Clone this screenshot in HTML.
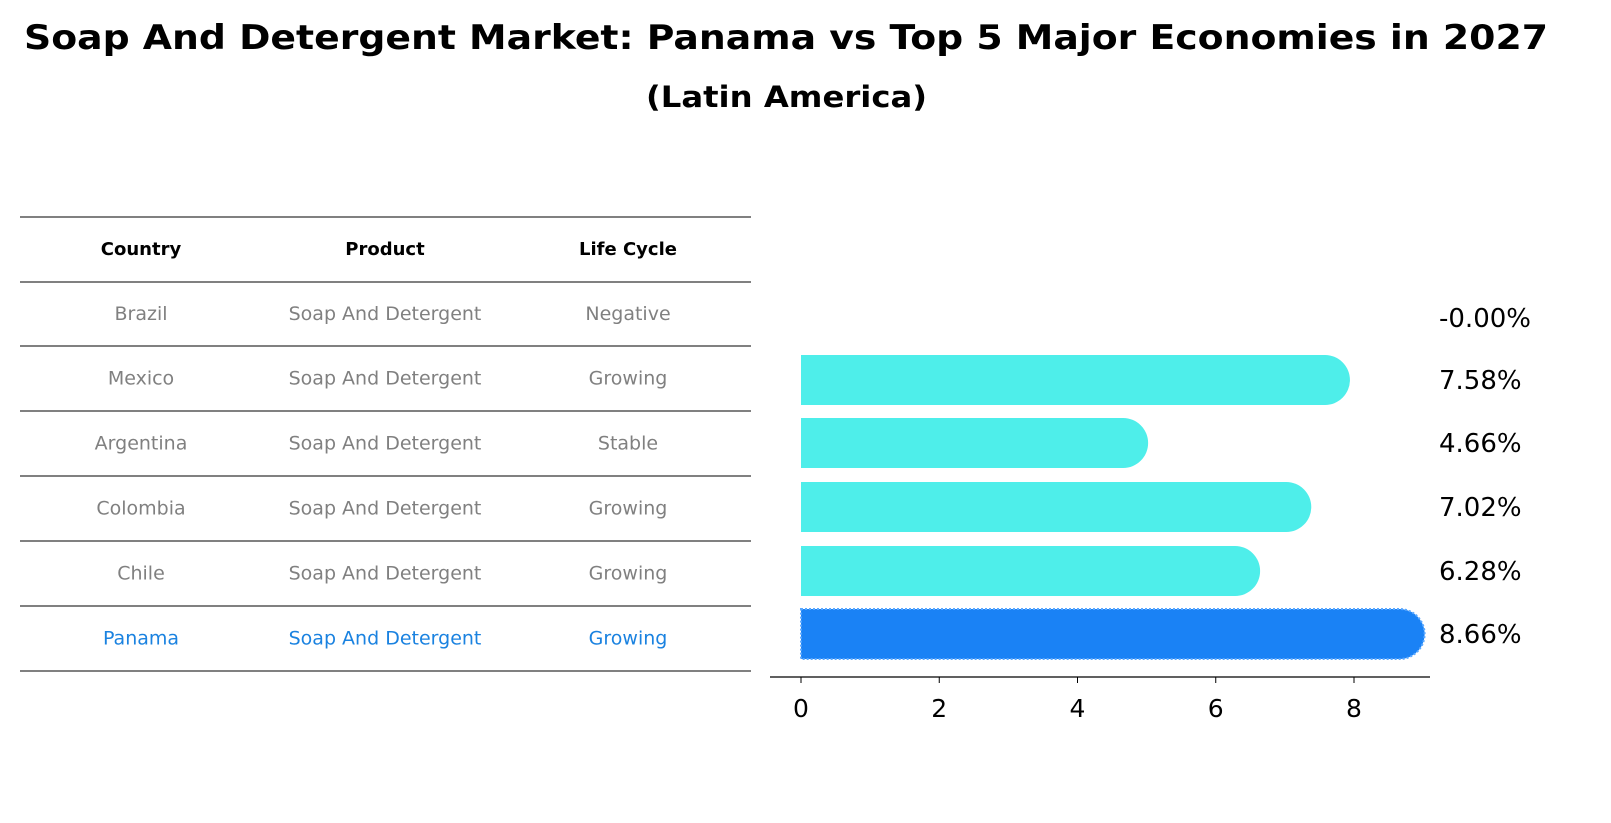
<!DOCTYPE html>
<html><head><meta charset="utf-8"><style>
body{margin:0;background:#fff;font-family:"Liberation Sans","DejaVu Sans",sans-serif;}
#wrap{position:relative;width:1611px;height:823px;overflow:hidden;}
</style></head><body>
<div id="wrap">
<svg id="svg" width="1611" height="823" xmlns="http://www.w3.org/2000/svg">
<text x="24" y="49" textLength="1524" lengthAdjust="spacingAndGlyphs" font-family="DejaVu Sans, sans-serif" font-weight="bold" font-size="34">Soap And Detergent Market: Panama vs Top 5 Major Economies in 2027</text>
<text x="646" y="107" textLength="281" lengthAdjust="spacingAndGlyphs" font-family="DejaVu Sans, sans-serif" font-weight="bold" font-size="29">(Latin America)</text>
<g id="table"></g>
<g id="bars"></g>
</svg>
</div>
<script>
const countries=["Brazil","Mexico","Argentina","Colombia","Chile","Panama"];
const products=["Soap And Detergent","Soap And Detergent","Soap And Detergent","Soap And Detergent","Soap And Detergent","Soap And Detergent"];
const lifeCycles=["Negative","Growing","Stable","Growing","Growing","Growing"];
const growthValues=[-0.00,7.58,4.66,7.02,6.28,8.66];
const valueLabels=["-0.00%","7.58%","4.66%","7.02%","6.28%","8.66%"];
const xTicks=[0,2,4,6,8];
const NS="http://www.w3.org/2000/svg";
function mk(tag,attrs,parent){const e=document.createElementNS(NS,tag);for(const k in attrs)e.setAttribute(k,attrs[k]);parent.appendChild(e);return e;}
const tbl=document.getElementById('table');
const lineYs=[217,282,346,411,476,541,606,671];
const colX=[141,385,628];
lineYs.forEach((y,i)=>{const l=mk('line',{x1:20,x2:751,y1:y,y2:y,stroke:'#000','stroke-width':1},tbl);

});
const headers=["Country","Product","Life Cycle"];
headers.forEach((h,i)=>{const t=mk('text',{x:colX[i],y:255,'text-anchor':'middle','font-family':'DejaVu Sans, sans-serif','font-weight':'bold','font-size':18},tbl);t.textContent=h;

});
countries.forEach((c,r)=>{const y=(lineYs[r+1]+lineYs[r+2])/2+6;const col=c==="Panama"?'#1a82e0':'#808080';
[c,products[r],lifeCycles[r]].forEach((v,i)=>{const t=mk('text',{x:colX[i],y:y,'text-anchor':'middle','font-family':'DejaVu Sans, sans-serif','font-size':19,fill:col},tbl);t.textContent=v;

});});
const g=document.getElementById('bars');
const x0=801,unit=(1354-801)/8;const xs=v=>x0+v*unit;
const rowY=[318,380,443,507,571,634];const h=50,rr=25;
growthValues.forEach((v,i)=>{
  const cy=rowY[i];const isP=countries[i]==="Panama";const fill=isP?'#1a82f5':'#4eeeea';
  if(v>0){
    const xe=xs(v);
    const p=mk('path',{d:`M${x0},${cy-h/2} L${xe},${cy-h/2} A${rr},${rr} 0 0 1 ${xe},${cy+h/2} L${x0},${cy+h/2} Z`,fill:fill,stroke:isP?'#5aa8ff':'none','stroke-width':isP?2:0,'stroke-dasharray':isP?'2,2':'none'},g);
    
    
  }
  const t=mk('text',{x:1439,y:cy+9,'font-family':'DejaVu Sans, sans-serif','font-size':26},g);t.textContent=valueLabels[i];
  
  
});
const ax=mk('line',{x1:770,x2:1430,y1:677,y2:677,stroke:'#000','stroke-width':1.3},g);


xTicks.forEach(v=>{const tk=mk('line',{x1:xs(v),x2:xs(v),y1:677,y2:683,stroke:'#000'},g);


const t=mk('text',{x:xs(v),y:717,'text-anchor':'middle','font-family':'DejaVu Sans, sans-serif','font-size':25},g);t.textContent=v;

});
</script>
</body></html>
